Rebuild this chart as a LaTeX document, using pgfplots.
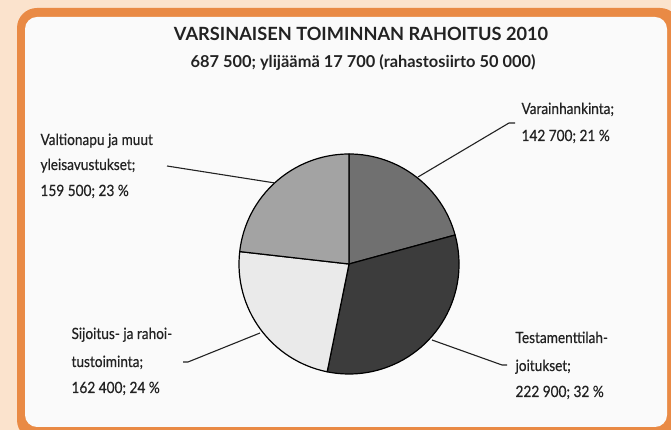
\documentclass[border=0pt]{standalone}
\usepackage{fontspec}
\setmainfont{Lato}
\newfontfamily\lblfont[FakeStretch=0.88,FakeBold=0.4]{Lato}
\newfontfamily\ttlfont[FakeStretch=1.0]{Lato}
\usepackage{pgfplots}
\pgfplotsset{compat=1.18}
\usepackage{pgfplotstable}
\definecolor{peach}{HTML}{FBE3CD}
\definecolor{orng}{HTML}{E98A45}
\definecolor{innerbg}{HTML}{FAFAFA}
\definecolor{txt}{HTML}{222222}
\definecolor{cVar}{HTML}{707070}
\definecolor{cTes}{HTML}{3C3C3C}
\definecolor{cSij}{HTML}{EAEAEA}
\definecolor{cVal}{HTML}{A3A3A3}
\pgfplotstableread{
name value
Varainhankinta 142700
Testamenttilahjoitukset 222900
Sijoitus 162400
Valtionapu 159500
}\piedata
\pgfplotstablegetelem{0}{value}\of\piedata \let\vA\pgfplotsretval
\pgfplotstablegetelem{1}{value}\of\piedata \let\vB\pgfplotsretval
\pgfplotstablegetelem{2}{value}\of\piedata \let\vC\pgfplotsretval
\pgfplotstablegetelem{3}{value}\of\piedata \let\vD\pgfplotsretval
\edef\vT{\fpeval{\vA+\vB+\vC+\vD}}
\edef\aA{\fpeval{90-360*\vA/\vT}}
\edef\aB{\fpeval{\aA-360*\vB/\vT}}
\edef\aC{\fpeval{\aB-360*\vC/\vT}}
\edef\aD{\fpeval{\aC-360*\vD/\vT}}
\newcommand\lbl{\lblfont\fontsize{15.5}{17}\selectfont}
\begin{document}
\begin{tikzpicture}
\begin{axis}[
  width=671pt, height=430pt, scale only axis,
  xmin=0, xmax=671, ymin=0, ymax=430,
  hide axis, clip=false,
]
% background frame
\fill[peach] (axis cs:-5,-5) rectangle (axis cs:680,440);
\fill[orng, rounded corners=20pt] (axis cs:17,-10) rectangle (axis cs:680,422);
\fill[innerbg, rounded corners=12pt] (axis cs:25,3) rectangle (axis cs:667,413);
% pie slices
\filldraw[fill=cVar, draw=black, line width=1.2pt, line join=round] (axis cs:349,166) -- ++(90:110pt) arc[start angle=90, end angle=\aA, radius=110pt] -- cycle;
\filldraw[fill=cTes, draw=black, line width=1.2pt, line join=round] (axis cs:349,166) -- ++(\aA:110pt) arc[start angle=\aA, end angle=\aB, radius=110pt] -- cycle;
\filldraw[fill=cSij, draw=black, line width=1.2pt, line join=round] (axis cs:349,166) -- ++(\aB:110pt) arc[start angle=\aB, end angle=\aC, radius=110pt] -- cycle;
\filldraw[fill=cVal, draw=black, line width=1.2pt, line join=round] (axis cs:349,166) -- ++(\aC:110pt) arc[start angle=\aC, end angle=\aD, radius=110pt] -- cycle;
% leader lines
\draw[line width=1.1pt, txt] (axis cs:167,264) -- (axis cs:275,247);
\draw[line width=1.1pt, txt] (axis cs:515,307) -- (axis cs:509,307) -- (axis cs:418,253);
\draw[line width=1.1pt, txt] (axis cs:183,68) -- (axis cs:188,68) -- (axis cs:260,97);
\draw[line width=1.1pt, txt] (axis cs:507,65) -- (axis cs:502,65) -- (axis cs:432,90);
% titles
\node[anchor=base, font=\ttlfont\bfseries\fontsize{18.2}{20}\selectfont, text=txt] at (axis cs:361,389) {VARSINAISEN TOIMINNAN RAHOITUS 2010};
\node[anchor=base, font=\ttlfont\bfseries\fontsize{16.4}{18}\selectfont, text=txt] at (axis cs:363,362) {687 500; ylijäämä 17 700 (rahastosiirto 50 000)};
% labels
\node[anchor=base west, font=\lbl, text=txt] at (axis cs:37,285) {Valtionapu ja muut};
\node[anchor=base west, font=\lbl, text=txt] at (axis cs:37,260) {yleisavustukset;};
\node[anchor=base west, font=\lbl, text=txt] at (axis cs:37,234) {159 500; 23 \%};
\node[anchor=base west, font=\lbl, text=txt] at (axis cs:518,316) {Varainhankinta;};
\node[anchor=base west, font=\lbl, text=txt] at (axis cs:518,289) {142 700; 21 \%};
\node[anchor=base west, font=\lbl, text=txt] at (axis cs:68,91) {Sijoitus- ja rahoi-};
\node[anchor=base west, font=\lbl, text=txt] at (axis cs:68,63) {tustoiminta;};
\node[anchor=base west, font=\lbl, text=txt] at (axis cs:68,37) {162 400; 24 \%};
\node[anchor=base west, font=\lbl, text=txt] at (axis cs:512,87) {Testamenttilah-};
\node[anchor=base west, font=\lbl, text=txt] at (axis cs:512,59) {joitukset;};
\node[anchor=base west, font=\lbl, text=txt] at (axis cs:512,33) {222 900; 32 \%};
\end{axis}
\pgfresetboundingbox
\useasboundingbox (0,0) rectangle (671pt,430pt);
\end{tikzpicture}
\end{document}
